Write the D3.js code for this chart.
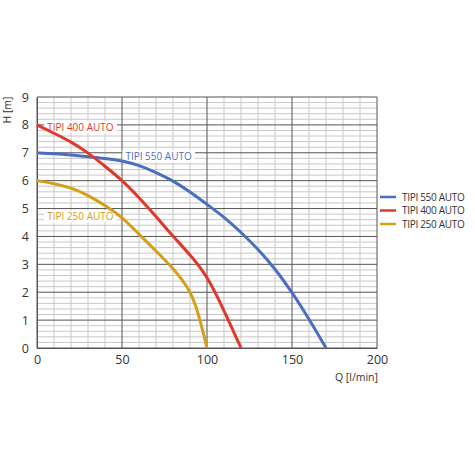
<!DOCTYPE html>
<html>
<head>
<meta charset="utf-8">
<script src="https://cdn.jsdelivr.net/npm/d3@7"></script>
<style>
  body { margin: 0; background: #fff; }
  text { font-family: "Open Sans", Lato, sans-serif; }
</style>
</head>
<body>
<svg class="chart" width="475" height="475"></svg>
<script>
// flow Q [l/min] and head H [m]
let q550 = [0, 10, 20, 30, 40, 50, 60, 70, 80, 90, 100, 110, 120, 130, 140, 150, 160, 170];
let h550 = [7.0, 6.97, 6.92, 6.86, 6.8, 6.72, 6.55, 6.3, 6.0, 5.6, 5.15, 4.7, 4.15, 3.55, 2.85, 2.0, 1.05, 0];
let q400 = [0, 10, 20, 30, 40, 50, 60, 70, 80, 90, 100, 110, 120];
let h400 = [8.0, 7.7, 7.4, 7.0, 6.52, 6.02, 5.4, 4.72, 4.0, 3.35, 2.6, 1.35, 0];
let q250 = [0, 10, 20, 30, 40, 50, 60, 70, 80, 90, 95, 100];
let h250 = [6.0, 5.9, 5.75, 5.48, 5.12, 4.7, 4.08, 3.48, 2.87, 2.1, 1.25, 0];

let seriesNames = ["TIPI 550 AUTO", "TIPI 400 AUTO", "TIPI 250 AUTO"];
let xTicks = [0, 50, 100, 150, 200];
let yTicks = [0, 1, 2, 3, 4, 5, 6, 7, 8, 9];

let colors = ["#4a6fc0", "#e0392b", "#d4a019"];

let svg = d3.select(".chart");
let x = d3.scaleLinear().domain([0, 200]).range([37, 377]);
let y = d3.scaleLinear().domain([0, 9]).range([348, 97]);

// minor grid
svg.append("g").selectAll("line")
  .data(d3.range(0, 9.01, 0.2).filter(v => Math.abs(v - Math.round(v)) > 0.01))
  .enter().append("line")
  .attr("x1", x(0)).attr("x2", x(200))
  .attr("y1", d => y(d)).attr("y2", d => y(d))
  .style("stroke", "#c8c8c8").style("stroke-width", 1);

svg.append("g").selectAll("line")
  .data(d3.range(10, 200, 10).filter(v => v % 50 !== 0))
  .enter().append("line")
  .attr("x1", d => x(d)).attr("x2", d => x(d))
  .attr("y1", y(0)).attr("y2", y(9))
  .style("stroke", "#c8c8c8").style("stroke-width", 1);

// major grid
svg.append("g").selectAll("line")
  .data(yTicks)
  .enter().append("line")
  .attr("x1", x(0)).attr("x2", x(200))
  .attr("y1", d => y(d)).attr("y2", d => y(d))
  .style("stroke", "#555").style("stroke-width", 1);

svg.append("g").selectAll("line")
  .data(xTicks)
  .enter().append("line")
  .attr("x1", d => x(d)).attr("x2", d => x(d))
  .attr("y1", y(0)).attr("y2", y(9))
  .style("stroke", "#555").style("stroke-width", 1);

// axes
let xAxis = svg.append("g")
  .attr("transform", `translate(0,${y(0)})`)
  .call(d3.axisBottom(x).tickValues(xTicks).tickSize(0).tickPadding(7));
let yAxis = svg.append("g")
  .attr("transform", `translate(${x(0)},0)`)
  .call(d3.axisLeft(y).tickValues(yTicks).tickSize(0).tickPadding(8));
[xAxis, yAxis].forEach(g => {
  g.select(".domain").style("stroke", "#555");
  g.selectAll("text").style("font-size", "12.5px").style("fill", "#333")
    .style("font-family", "'Open Sans', sans-serif");
});

svg.append("text")
  .attr("x", 378).attr("y", 381)
  .attr("text-anchor", "end")
  .style("font-size", "10.5px").style("fill", "#333")
  .text("Q [l/min]");

svg.append("text")
  .attr("transform", "translate(11,110) rotate(-90)")
  .attr("text-anchor", "middle")
  .style("font-size", "10.5px").style("fill", "#333")
  .text("H [m]");

// in-chart labels with white backing (under the curves)
let labels = [
  { name: seriesNames[0], q: 52, h: 6.85, c: colors[0] },
  { name: seriesNames[1], q: 6, h: 7.9, c: colors[1] },
  { name: seriesNames[2], q: 6, h: 4.7, c: colors[2] }
];
let labelG = svg.append("g");
labels.forEach(l => {
  let t = labelG.append("text")
    .attr("x", x(l.q)).attr("y", y(l.h))
    .attr("dy", "0.35em")
    .style("font-size", "10px")
    .style("fill", l.c)
    .text(l.name);
  let b = t.node().getBBox();
  labelG.insert("rect", function () { return t.node(); })
    .attr("x", b.x - 3).attr("y", b.y + 1)
    .attr("width", b.width + 6).attr("height", b.height - 2)
    .style("fill", "#fff");
});

// curves
let data = [
  q550.map((q, i) => [q, h550[i]]),
  q400.map((q, i) => [q, h400[i]]),
  q250.map((q, i) => [q, h250[i]])
];
let line = d3.line()
  .x(d => x(d[0])).y(d => y(d[1]))
  .curve(d3.curveBasis);

svg.append("g").selectAll("path")
  .data(data)
  .enter().append("path")
  .attr("d", line)
  .style("fill", "none")
  .style("stroke", (d, i) => colors[i])
  .style("stroke-width", 3);

// legend
let legend = svg.append("g").selectAll("g")
  .data(seriesNames)
  .enter().append("g")
  .attr("transform", (d, i) => `translate(380,${197 + i * 13.5})`);
legend.append("line")
  .attr("x1", 0).attr("x2", 16)
  .style("stroke", (d, i) => colors[i])
  .style("stroke-width", 2.5);
legend.append("text")
  .attr("x", 22).attr("dy", "0.35em")
  .style("font-size", "10px").style("fill", "#333")
  .style("letter-spacing", "-0.3px")
  .text(d => d);
</script>
</body>
</html>
